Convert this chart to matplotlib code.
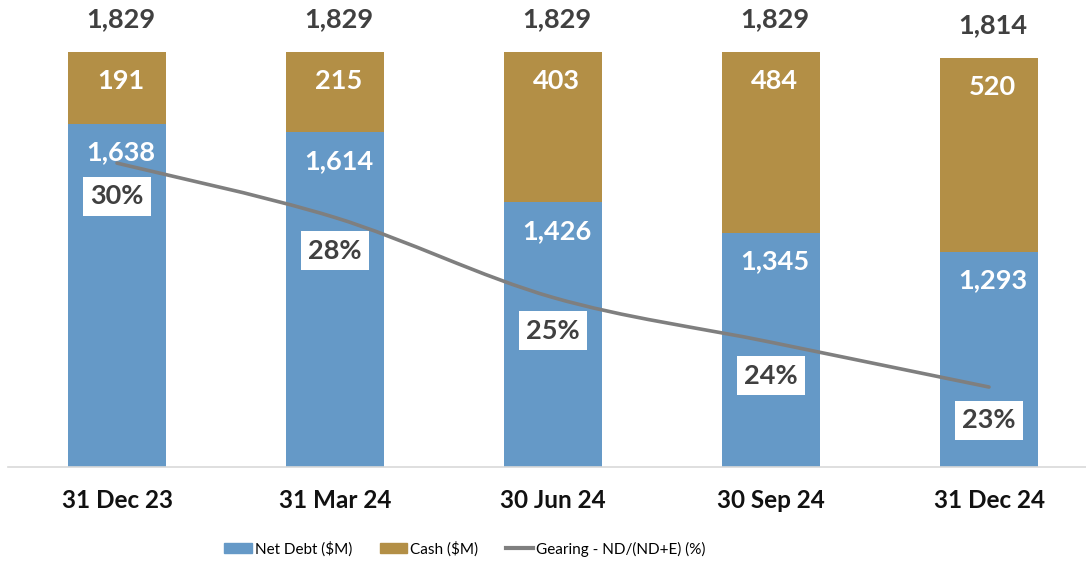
import matplotlib
matplotlib.use('Agg')
import matplotlib.pyplot as plt
from matplotlib.path import Path
from matplotlib.patches import PathPatch, Patch
from matplotlib.lines import Line2D

plt.rcParams['font.family'] = ['Lato', 'DejaVu Sans']

# data
dates = ['31 Dec 23', '31 Mar 24', '30 Jun 24', '30 Sep 24', '31 Dec 24']
net_debt = [1638, 1614, 1426, 1345, 1293]
cash = [191, 215, 403, 484, 520]
totals = [1829, 1829, 1829, 1829, 1814]
gearing = [29.6, 27.9, 25.4, 24.0, 22.6]

BLUE = '#6599C7'
GOLD = '#B38F46'
GREY = '#7F7F7F'
DARK = '#404040'

W, H = 1086, 561
fig = plt.figure(figsize=(W / 100, H / 100), dpi=100)
ax = fig.add_axes([8 / W, 94 / H, 1090 / W, 467 / H])
ax2 = ax.twinx()

x = list(range(len(dates)))
bw = 0.445
ax.bar(x, net_debt, bw, color=BLUE, zorder=2)
ax.bar(x, cash, bw, bottom=net_debt, color=GOLD, zorder=2)
ax.set_xlim(-0.5, 4.5)
ax.set_ylim(715, 1970)

FS = 19.5
for i in x:
    top = net_debt[i] + cash[i]
    ax.annotate(f'{net_debt[i]:,}', (i, net_debt[i]), xytext=(2.5, -20.5),
                textcoords='offset points', ha='center', va='center',
                fontsize=FS, fontweight='bold', color='white')
    ax.annotate(f'{cash[i]:,}', (i, top), xytext=(2.5, -20.5),
                textcoords='offset points', ha='center', va='center',
                fontsize=FS, fontweight='bold', color='white')
    ax.annotate(f'{totals[i]:,}', (i, totals[i]), xytext=(2.5, 24),
                textcoords='offset points', ha='center', va='center',
                fontsize=FS, fontweight='bold', color=DARK)

# smoothed gearing line (Excel style bezier through the points)
pts = list(zip(x, gearing))
verts = [pts[0]]
codes = [Path.MOVETO]
for i in range(len(pts) - 1):
    p0 = pts[i - 1] if i > 0 else pts[i]
    p1 = pts[i]
    p2 = pts[i + 1]
    p3 = pts[i + 2] if i + 2 < len(pts) else pts[i + 1]
    c1 = (p1[0] + (p2[0] - p0[0]) / 6, p1[1] + (p2[1] - p0[1]) / 6)
    c2 = (p2[0] - (p3[0] - p1[0]) / 6, p2[1] - (p3[1] - p1[1]) / 6)
    verts += [c1, c2, p2]
    codes += [Path.CURVE4] * 3
ax2.add_patch(PathPatch(Path(verts, codes), fill=False, edgecolor=GREY,
                        lw=2.6, capstyle='round', zorder=3))
ax2.set_ylim(20.1, 34.7)

for i in x:
    ax2.annotate(f'{gearing[i]:.0f}%', (i, gearing[i]), xytext=(0, -24),
                 textcoords='offset points', ha='center', va='center',
                 fontsize=FS, fontweight='bold', color=DARK, zorder=4,
                 bbox=dict(boxstyle='square,pad=0.28', fc='white', ec='none'))

for a in (ax, ax2):
    for s in ('top', 'left', 'right'):
        a.spines[s].set_visible(False)
    a.set_yticks([])
ax2.spines['bottom'].set_visible(False)
ax.spines['bottom'].set_color('#D9D9D9')
ax.spines['bottom'].set_linewidth(1.2)

ax.set_xticks(x)
ax.set_xticklabels(dates, fontsize=17.5, fontweight='bold', color='#111111')
ax.tick_params(axis='x', length=0, pad=16)

handles = [Patch(color=BLUE), Patch(color=GOLD), Line2D([], [], color=GREY, lw=3)]
labels = ['Net Debt ($M)', 'Cash ($M)', 'Gearing - ND/(ND+E) (%)']
fig.legend(handles, labels, loc='center', bbox_to_anchor=(465 / W, 1 - 549 / H),
           ncol=3, frameon=False, fontsize=11, handlelength=1.8, handleheight=0.65,
           handletextpad=0.2, columnspacing=1.8)

fig.savefig('out.png', dpi=100)
